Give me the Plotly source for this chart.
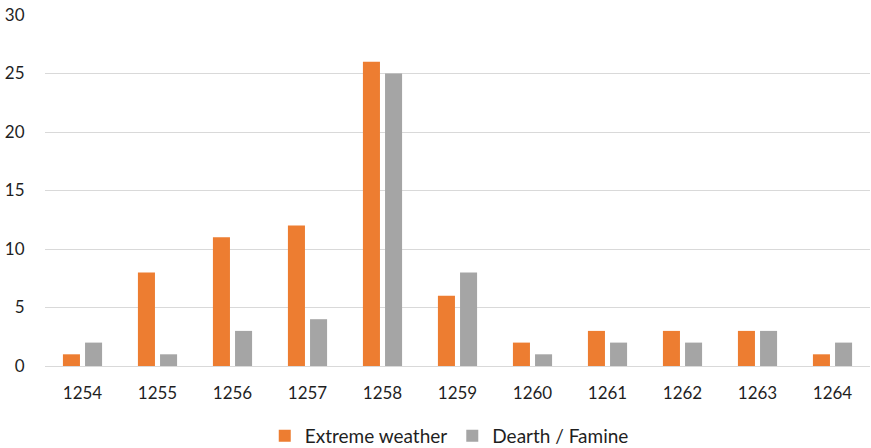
import plotly.graph_objects as go

years = ["1254", "1255", "1256", "1257", "1258", "1259", "1260", "1261", "1262", "1263", "1264"]
extreme_weather = [1, 8, 11, 12, 26, 6, 2, 3, 3, 3, 1]
dearth_famine = [2, 1, 3, 4, 25, 8, 1, 2, 2, 3, 2]

FONT = "Lato, 'Open Sans', sans-serif"
TEXT = "#1f1f1f"

fig = go.Figure()
fig.add_trace(go.Bar(x=years, y=extreme_weather, name="Extreme weather",
                     marker=dict(color="#ED7D31", line=dict(width=0))))
fig.add_trace(go.Bar(x=years, y=dearth_famine, name="Dearth / Famine",
                     marker=dict(color="#A5A5A5", line=dict(width=0))))

fig.update_layout(
    width=871, height=448,
    margin=dict(l=45, r=1, t=15, b=82, autoexpand=False),
    paper_bgcolor="white", plot_bgcolor="white",
    barmode="group", bargap=0.41, bargroupgap=0.23,
    font=dict(family=FONT, size=17, color=TEXT),
    showlegend=True,
    legend=dict(orientation="h", x=0.49, xanchor="center",
                yref="container", y=0.027, yanchor="middle",
                font=dict(size=19, color=TEXT), itemwidth=30,
                tracegroupgap=0, itemclick=False),
)
fig.update_xaxes(
    type="category", showgrid=False, showline=True, linecolor="#D9D9D9", linewidth=1,
    ticks="outside", ticklen=12, tickcolor="rgba(0,0,0,0)",
    tickfont=dict(size=17, family=FONT, color=TEXT),
)
fig.update_yaxes(
    range=[0, 30], dtick=5, showgrid=True, gridcolor="#D9D9D9", gridwidth=1,
    zeroline=False, showline=False,
    ticks="outside", ticklen=16, tickcolor="rgba(0,0,0,0)",
    tickfont=dict(size=17, family=FONT, color=TEXT),
)

fig.write_html("out.html")
